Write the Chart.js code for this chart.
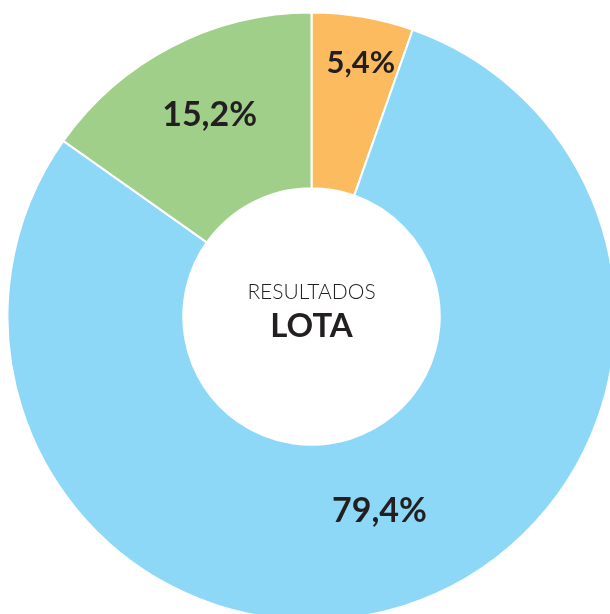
<!DOCTYPE html>
<html>
<head>
<meta charset="utf-8">
<script src="https://cdn.jsdelivr.net/npm/chart.js@4"></script>
<style>
html,body{margin:0;padding:0;background:#fff;overflow:hidden;}
#wrap{position:absolute;left:0;top:0;width:623px;height:633px;}
</style>
</head>
<body>
<div id="wrap"><canvas id="c" width="623" height="633"></canvas></div>
<script>
const categories = ["Categoría A", "Categoría B", "Categoría C"];
const values = [5.4, 79.4, 15.2];
const valueLabels = ["5,4%", "79,4%", "15,2%"];
const colors = ["#FDBB60", "#8DD8F7", "#9FCF88"];
const centerTitle = "RESULTADOS";
const centerName = "LOTA";

const labelPlugin = {
  id: "sliceLabels",
  afterDatasetsDraw(chart, args, opts) {
    const ctx = chart.ctx;
    const meta = chart.getDatasetMeta(0);
    ctx.save();
    ctx.fillStyle = "#231F20";
    ctx.textAlign = "center";
    ctx.textBaseline = "middle";
    meta.data.forEach((arc, i) => {
      const p = arc.getProps(["x","y","startAngle","endAngle","innerRadius","outerRadius"], true);
      const a = p.startAngle + (p.endAngle - p.startAngle) * opts.angular[i];
      const r = p.innerRadius + (p.outerRadius - p.innerRadius) * opts.radial[i];
      ctx.font = "bold " + opts.sizes[i] + "px Lato, 'Open Sans', sans-serif";
      ctx.fillText(valueLabels[i], p.x + r * Math.cos(a), p.y + r * Math.sin(a));
    });
    const c = meta.data[0];
    ctx.font = "300 21px Lato, 'Open Sans', sans-serif";
    ctx.fillText(centerTitle, c.x, c.y - 24);
    ctx.font = "bold 33px Lato, 'Open Sans', sans-serif";
    ctx.fillText(centerName, c.x, c.y + 10);
    ctx.restore();
  }
};

new Chart(document.getElementById("c"), {
  type: "doughnut",
  data: {
    labels: categories,
    datasets: [{
      data: values,
      backgroundColor: colors,
      borderColor: "#ffffff",
      borderWidth: 2,
      hoverOffset: 0
    }]
  },
  options: {
    responsive: false,
    animation: false,
    radius: 304,
    cutout: 131,
    rotation: 0,
    layout: { padding: 0 },
    plugins: {
      legend: { display: false },
      tooltip: { enabled: false },
      sliceLabels: {
        radial: [0.74, 0.445, 0.555],
        angular: [0.566, 0.4945, 0.51],
        sizes: [31, 34, 34]
      }
    }
  },
  plugins: [labelPlugin]
});
</script>
</body>
</html>
